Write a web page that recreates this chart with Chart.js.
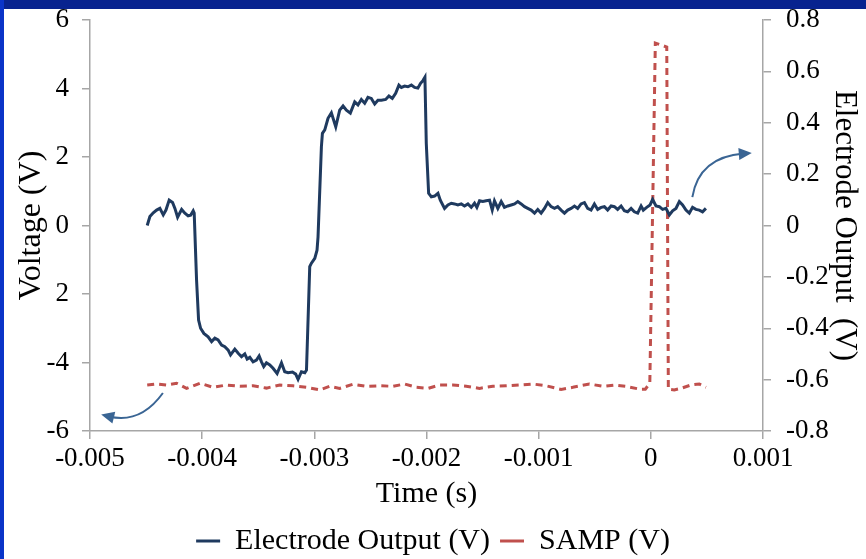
<!DOCTYPE html>
<html>
<head>
<meta charset="utf-8">
<script src="https://cdn.jsdelivr.net/npm/chart.js@4.4.1/dist/chart.umd.min.js"></script>
<style>
  html, body { margin: 0; padding: 0; background: #fff; }
  #wrap { position: relative; width: 866px; height: 559px; overflow: hidden; }
  #topBand { position: absolute; left: 0; top: 0; width: 866px; height: 9px; background: #08238f; }
  #leftBand { position: absolute; left: 0; top: 0; width: 4px; height: 559px; background: #0a34c8; }
  canvas { position: absolute; left: 0; top: 0; }
</style>
</head>
<body>
<div id="wrap">
  <canvas id="chart" width="866" height="559"></canvas>
  <div id="topBand"></div>
  <div id="leftBand"></div>
</div>
<script>
// Electrode output trace, time in seconds, voltage read on the left axis
const electrodeTime = [-0.004490,-0.004466,-0.004436,-0.004406,-0.004377,-0.004347,-0.004323,-0.004294,-0.004264,-0.004243,-0.004219,-0.004183,-0.004154,-0.004125,-0.004103,-0.004080,-0.004071,
  -0.004050,-0.004032,-0.004014,-0.003985,-0.003947,-0.003916,-0.003887,-0.003858,-0.003827,-0.003798,-0.003768,-0.003747,-0.003709,-0.003679,-0.003649,-0.003620,-0.003599,-0.003575,-0.003546,-0.003516,-0.003492,-0.003471,-0.003451,-0.003427,-0.003397,-0.003368,-0.003332,-0.003293,-0.003264,-0.003234,-0.003195,-0.003166,-0.003145,-0.003115,-0.003085,-0.003070,
  -0.003041,-0.003026,-0.002996,-0.002976,-0.002967,-0.002937,-0.002928,-0.002907,-0.002878,-0.002848,-0.002809,-0.002774,-0.002744,-0.002714,-0.002679,-0.002640,-0.002611,-0.002581,-0.002551,-0.002522,-0.002492,-0.002462,-0.002433,-0.002402,-0.002364,-0.002335,-0.002305,-0.002275,-0.002246,-0.002224,-0.002195,-0.002166,-0.002135,-0.002106,-0.002077,-0.002053,-0.002032,-0.002014,
  -0.002002,-0.001981,-0.001957,-0.001928,-0.001898,-0.001877,-0.001839,-0.001809,-0.001779,-0.001750,-0.001720,-0.001690,-0.001661,-0.001631,-0.001601,-0.001572,-0.001551,-0.001527,-0.001498,-0.001468,-0.001438,-0.001414,-0.001394,-0.001364,-0.001334,-0.001305,-0.001275,-0.001245,-0.001215,-0.001186,-0.001156,-0.001126,-0.001097,-0.001067,-0.001037,-0.001008,-0.000978,-0.000948,-0.000919,-0.000889,-0.000859,-0.000830,-0.000800,-0.000770,-0.000741,
  -0.000711,-0.000681,-0.000652,-0.000622,-0.000592,-0.000563,-0.000533,-0.000503,-0.000474,-0.000443,-0.000414,-0.000385,-0.000354,-0.000325,-0.000296,-0.000265,-0.000236,-0.000207,-0.000176,-0.000147,-0.000117,-0.000087,-0.000067,-0.000037,-0.000007,0.000016,0.000046,0.000076,0.000105,0.000135,0.000165,0.000194,0.000224,0.000254,0.000283,0.000313,0.000343,0.000372,0.000402,0.000432,0.000461,0.000491];
const electrodeVolts = [0.00,0.26,0.37,0.45,0.50,0.31,0.45,0.74,0.67,0.50,0.24,0.47,0.36,0.28,0.30,0.43,0.36,
  -1.59,-2.76,-3.00,-3.15,-3.25,-3.39,-3.29,-3.34,-3.49,-3.54,-3.64,-3.78,-3.61,-3.73,-3.83,-3.75,-3.90,-3.85,-3.98,-3.93,-3.81,-3.98,-4.12,-4.01,-4.07,-4.17,-4.32,-4.01,-4.27,-4.30,-4.28,-4.34,-4.49,-4.27,-4.30,-4.22,
  -1.20,-1.10,-0.96,-0.72,-0.33,2.30,2.69,2.79,3.13,3.29,2.88,3.37,3.49,3.37,3.28,3.61,3.52,3.68,3.57,3.74,3.71,3.55,3.66,3.66,3.68,3.78,3.71,3.86,4.10,4.03,4.07,4.05,4.10,4.03,4.01,4.15,4.23,4.33,
  2.40,0.94,0.84,0.86,0.94,0.74,0.50,0.60,0.65,0.63,0.60,0.63,0.57,0.63,0.53,0.65,0.53,0.72,0.70,0.72,0.74,0.45,0.72,0.50,0.70,0.53,0.57,0.60,0.63,0.70,0.63,0.55,0.50,0.45,0.36,0.47,0.36,0.50,0.67,0.55,0.50,0.55,0.45,0.36,0.45,
  0.50,0.57,0.50,0.63,0.67,0.50,0.45,0.63,0.47,0.53,0.55,0.45,0.57,0.55,0.47,0.57,0.43,0.40,0.50,0.40,0.36,0.57,0.45,0.53,0.60,0.76,0.57,0.55,0.47,0.50,0.31,0.43,0.50,0.70,0.60,0.45,0.36,0.53,0.47,0.45,0.40,0.50];

// SAMP trace, read on the right axis
const sampTime = [-0.004490,-0.004406,-0.004317,-0.004228,-0.004139,-0.004020,-0.003902,-0.003783,-0.003664,-0.003546,
  -0.003427,-0.003308,-0.003190,-0.003070,-0.002952,-0.002863,-0.002774,-0.002655,-0.002536,-0.002418,
  -0.002299,-0.002195,-0.002091,-0.001987,-0.001883,-0.001765,-0.001646,-0.001527,-0.001409,-0.001289,
  -0.001171,-0.001053,-0.000933,-0.000800,-0.000696,-0.000548,-0.000429,-0.000325,-0.000221,-0.000102,
  -0.000049,-0.000009,0.000040,0.000142,0.000156,0.000209,0.000269,0.000358,0.000432,0.000491];
const sampVolts = [-0.621,-0.617,-0.621,-0.614,-0.634,-0.614,-0.630,-0.621,-0.626,-0.624,
  -0.633,-0.621,-0.624,-0.630,-0.640,-0.626,-0.634,-0.618,-0.626,-0.624,
  -0.626,-0.617,-0.630,-0.634,-0.621,-0.621,-0.626,-0.634,-0.626,-0.624,
  -0.621,-0.617,-0.624,-0.638,-0.630,-0.617,-0.626,-0.621,-0.626,-0.637,
  -0.637,-0.614,0.710,0.695,-0.637,-0.640,-0.634,-0.621,-0.617,-0.630];

// tick labels as printed on the original (the -2 lost its minus sign)
const xTicks = [-0.005,-0.004,-0.003,-0.002,-0.001,0,0.001];
const xTickLabels = ['-0.005','-0.004','-0.003','-0.002','-0.001','0','0.001'];
const leftTicks = [-6,-4,-2,0,2,4,6];
const leftTickLabels = ['-6','-4','2','0','2','4','6'];
const rightTicks = [-0.8,-0.6,-0.4,-0.2,0,0.2,0.4,0.6,0.8];
const rightTickLabels = ['-0.8','-0.6','-0.4','-0.2','0','0.2','0.4','0.6','0.8'];

// curved arrows: [start, control, end] in (time, left-axis volts)
const arrows = [
  [[0.00037, 0.83], [0.00043, 2.0], [0.00090, 2.12]],
  [[-0.00435, -4.89], [-0.00455, -5.8], [-0.00490, -5.52]]
];

const serif = "'Liberation Serif', 'Times New Roman', serif";
const axisGray = '#a6a6a6';

const arrowPlugin = {
  id: 'arrows',
  afterDatasetsDraw(chart) {
    const ctx = chart.ctx, xs = chart.scales.x, ys = chart.scales.y;
    arrows.forEach(a => {
      const p = a.map(pt => [xs.getPixelForValue(pt[0]), ys.getPixelForValue(pt[1])]);
      const ang = Math.atan2(p[2][1] - p[1][1], p[2][0] - p[1][0]);
      ctx.save();
      ctx.strokeStyle = '#3a6594';
      ctx.fillStyle = '#3a6594';
      ctx.lineWidth = 2;
      ctx.beginPath();
      ctx.moveTo(p[0][0], p[0][1]);
      ctx.quadraticCurveTo(p[1][0], p[1][1], p[2][0] - 8 * Math.cos(ang), p[2][1] - 8 * Math.sin(ang));
      ctx.stroke();
      ctx.beginPath();
      ctx.moveTo(p[2][0], p[2][1]);
      ctx.lineTo(p[2][0] - 13 * Math.cos(ang) + 6 * Math.sin(ang), p[2][1] - 13 * Math.sin(ang) - 6 * Math.cos(ang));
      ctx.lineTo(p[2][0] - 13 * Math.cos(ang) - 6 * Math.sin(ang), p[2][1] - 13 * Math.sin(ang) + 6 * Math.cos(ang));
      ctx.closePath();
      ctx.fill();
      ctx.restore();
    });
  }
};

// fixed axis boxes so the plot area lands where the original has it
function fitVertical(width) {
  return s => { s.width = width; s.paddingTop = 0; };
}

new Chart(document.getElementById('chart'), {
  type: 'line',
  data: {
    datasets: [{
      label: 'Electrode Output (V)',
      data: electrodeTime.map((t, i) => ({x: t, y: electrodeVolts[i]})),
      yAxisID: 'y',
      borderColor: '#1f3a5f',
      backgroundColor: '#1f3a5f',
      borderWidth: 3,
      pointRadius: 0,
      tension: 0
    }, {
      label: 'SAMP (V)',
      data: sampTime.map((t, i) => ({x: t, y: sampVolts[i]})),
      yAxisID: 'y1',
      borderColor: '#c0504d',
      backgroundColor: '#c0504d',
      borderWidth: 3,
      borderDash: [7, 5],
      pointRadius: 0,
      tension: 0
    }]
  },
  options: {
    responsive: false,
    animation: false,
    devicePixelRatio: 1,
    layout: { padding: { top: 20, left: 0, right: 0, bottom: -7 } },
    plugins: {
      tooltip: { enabled: false },
      legend: {
        position: 'bottom',
        labels: {
          usePointStyle: true,
          pointStyle: 'line',
          pointStyleWidth: 24,
          color: '#000',
          padding: 10,
          font: { family: serif, size: 30 }
        }
      }
    },
    scales: {
      x: {
        type: 'linear',
        min: -0.005, max: 0.001,
        afterBuildTicks: s => { s.ticks = xTicks.map(v => ({value: v})); },
        afterFit: s => { s.height = 85; },
        ticks: {
          color: '#000',
          padding: 4,
          maxRotation: 0,
          font: { family: serif, size: 27 },
          callback: (v, i) => xTickLabels[i]
        },
        grid: { drawOnChartArea: false, drawTicks: true, tickLength: 8, color: axisGray, lineWidth: 1.5 },
        border: { display: true, color: axisGray, width: 1.5 },
        title: { display: true, text: 'Time (s)', color: '#000', font: { family: serif, size: 30 }, padding: { top: 0, bottom: 4 } }
      },
      y: {
        position: 'left',
        min: -6, max: 6,
        afterBuildTicks: s => { s.ticks = leftTicks.map(v => ({value: v})); },
        afterFit: fitVertical(90),
        ticks: {
          color: '#000',
          padding: 13,
          font: { family: serif, size: 27 },
          callback: (v, i) => leftTickLabels[i]
        },
        grid: { drawOnChartArea: false, drawTicks: true, tickLength: 8, color: axisGray, lineWidth: 1.5 },
        border: { display: true, color: axisGray, width: 1.5 },
        title: { display: true, text: 'Voltage (V)', color: '#000', font: { family: serif, size: 32 }, padding: { top: 12, bottom: 12 } }
      },
      y1: {
        position: 'right',
        min: -0.8, max: 0.8,
        afterBuildTicks: s => { s.ticks = rightTicks.map(v => ({value: v})); },
        afterFit: fitVertical(103),
        ticks: {
          color: '#000',
          padding: 15,
          font: { family: serif, size: 27 },
          callback: (v, i) => rightTickLabels[i]
        },
        grid: { drawOnChartArea: false, drawTicks: true, tickLength: 8, color: axisGray, lineWidth: 1.5 },
        border: { display: true, color: axisGray, width: 1.5 },
        title: { display: true, text: 'Electrode Output  (V)', color: '#000', font: { family: serif, size: 31 }, padding: { top: 3, bottom: 3 } }
      }
    }
  },
  plugins: [arrowPlugin]
});
</script>
</body>
</html>
